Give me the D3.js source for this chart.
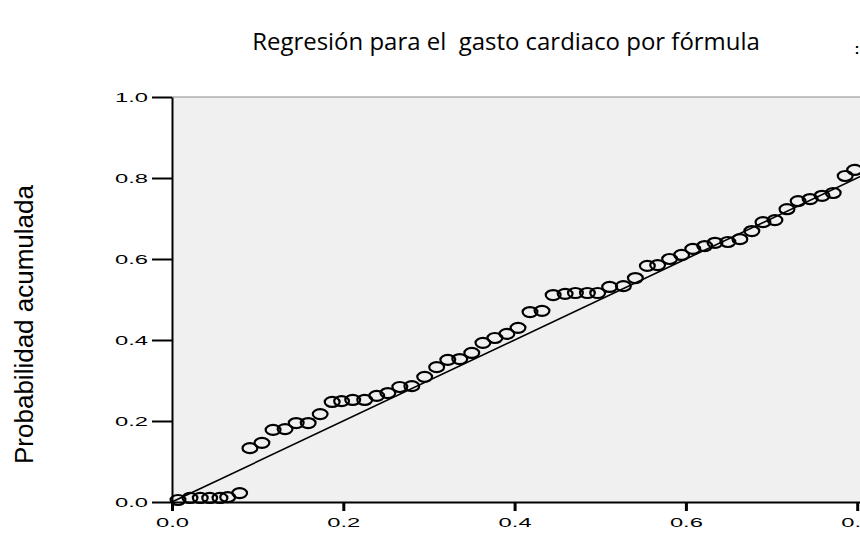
<!DOCTYPE html>
<html>
<head>
<meta charset="utf-8">
<script src="https://cdn.jsdelivr.net/npm/d3@7"></script>
<style>
	body { margin: 0; background: #fff; }
	svg { display: block; }
</style>
</head>
<body>
<div id="chart"></div>
<script>
var titleText = "Regresión para el  gasto cardiaco por fórmula";
var yLabelText = "Probabilidad acumulada";

// probabilidad acumulada esperada (x) y observada (y)
var expectedProb = [0.007, 0.021, 0.033, 0.044, 0.056, 0.065, 0.079,
	0.091, 0.105, 0.118, 0.132, 0.145, 0.159, 0.173, 0.187, 0.198, 0.211,
	0.225, 0.239, 0.252, 0.266, 0.280, 0.295, 0.309, 0.322, 0.336, 0.350,
	0.363, 0.377, 0.391, 0.404, 0.418, 0.432, 0.445, 0.459, 0.471, 0.485,
	0.497, 0.511, 0.527, 0.541, 0.555, 0.567, 0.581, 0.595, 0.608, 0.622,
	0.634, 0.649, 0.663, 0.677, 0.690, 0.704, 0.718, 0.731, 0.745, 0.759,
	0.772, 0.786, 0.797];
var observedProb = [0.005, 0.010, 0.010, 0.010, 0.010, 0.012, 0.022,
	0.133, 0.146, 0.178, 0.180, 0.195, 0.195, 0.217, 0.247, 0.249, 0.252,
	0.252, 0.262, 0.269, 0.284, 0.286, 0.309, 0.333, 0.351, 0.353, 0.368,
	0.393, 0.405, 0.415, 0.430, 0.469, 0.472, 0.511, 0.514, 0.516, 0.516,
	0.516, 0.531, 0.533, 0.553, 0.583, 0.585, 0.600, 0.610, 0.625, 0.632,
	0.640, 0.642, 0.649, 0.669, 0.691, 0.696, 0.723, 0.743, 0.748, 0.756,
	0.763, 0.805, 0.820];

var xTicks = [0, 0.2, 0.4, 0.6, 0.8, 1.0];
var yTicks = [0, 0.2, 0.4, 0.6, 0.8, 1.0];

var width = 860, height = 534;
var plotLeft = 172, plotTop = 97, plotBottom = 502;
var plotW = 856.5;

var svg = d3.select("#chart").append("svg")
	.attr("width", width)
	.attr("height", height);

var x = d3.scaleLinear().domain([0, 1]).range([plotLeft, plotLeft + plotW]);
var y = d3.scaleLinear().domain([0, 1]).range([plotBottom, plotTop]);

// fondo del área de gráfico
svg.append("rect")
	.attr("x", x(0)).attr("y", y(1))
	.attr("width", x(1) - x(0)).attr("height", y(0) - y(1))
	.style("fill", "#f0f0f0");
svg.append("line")
	.attr("x1", x(0)).attr("x2", x(1))
	.attr("y1", y(1)).attr("y2", y(1))
	.style("stroke", "#8a8a8a").style("stroke-width", 1.2);

svg.append("defs").append("clipPath").attr("id", "plot-clip")
	.append("rect")
	.attr("x", x(0)).attr("y", y(1))
	.attr("width", x(1) - x(0)).attr("height", y(0) - y(1));

// recta de referencia
svg.append("line")
	.attr("clip-path", "url(#plot-clip)")
	.attr("x1", x(0)).attr("y1", y(0))
	.attr("x2", x(1)).attr("y2", y(1))
	.style("stroke", "#000").style("stroke-width", 1.6);

// puntos
var pts = expectedProb.map(function(d, i) { return [d, observedProb[i]]; });
svg.append("g").selectAll("ellipse")
	.data(pts)
	.enter().append("ellipse")
	.attr("cx", function(d) { return x(d[0]); })
	.attr("cy", function(d) { return y(d[1]); })
	.attr("rx", 7.4)
	.attr("ry", 5)
	.style("fill", "none")
	.style("stroke", "#000")
	.style("stroke-width", 2.2);

var fmt = d3.format(".1f");

var yAxis = svg.append("g")
	.attr("transform", "translate(" + plotLeft + ",0)")
	.call(d3.axisLeft(y).tickValues(yTicks).tickFormat(fmt)
		.tickSize(20).tickSizeOuter(0).tickPadding(4));

var xAxis = svg.append("g")
	.attr("transform", "translate(0," + plotBottom + ")")
	.call(d3.axisBottom(x).tickValues(xTicks).tickFormat(fmt)
		.tickSize(9).tickSizeOuter(0).tickPadding(7));

[yAxis, xAxis].forEach(function(ax) {
	ax.select(".domain").style("stroke", "#000").style("stroke-width", 2);
	ax.selectAll("text")
		.style("font-family", "'Liberation Sans', Arial, sans-serif")
		.style("font-size", "13px")
		.style("fill", "#000")
		.attr("textLength", 33)
		.attr("lengthAdjust", "spacingAndGlyphs");
});
yAxis.selectAll(".tick line").style("stroke", "#000").style("stroke-width", 2);
xAxis.selectAll(".tick line").style("stroke", "#000").style("stroke-width", 3);

// título
var title = svg.append("text")
	.attr("x", 506)
	.attr("y", 50)
	.attr("text-anchor", "middle")
	.style("white-space", "pre")
	.style("font-family", "'Open Sans', 'Noto Sans', sans-serif")
	.style("font-size", "19px")
	.style("fill", "#000")
	.text(titleText);
var tw = title.node().getComputedTextLength();
title.style("font-size", (19 * 508 / tw) + "px");

svg.append("text")
	.attr("x", 857)
	.attr("y", 54)
	.attr("text-anchor", "middle")
	.style("font-family", "'Liberation Sans', Arial, sans-serif")
	.style("font-size", "15px")
	.style("font-weight", "bold")
	.text(":");

// etiqueta eje y
svg.append("text")
	.attr("transform", "translate(33," + 324.5 + ") rotate(-90)")
	.attr("text-anchor", "middle")
	.style("font-family", "'Liberation Sans', Arial, sans-serif")
	.style("font-size", "26px")
	.style("fill", "#000")
	.text(yLabelText);
</script>
</body>
</html>
